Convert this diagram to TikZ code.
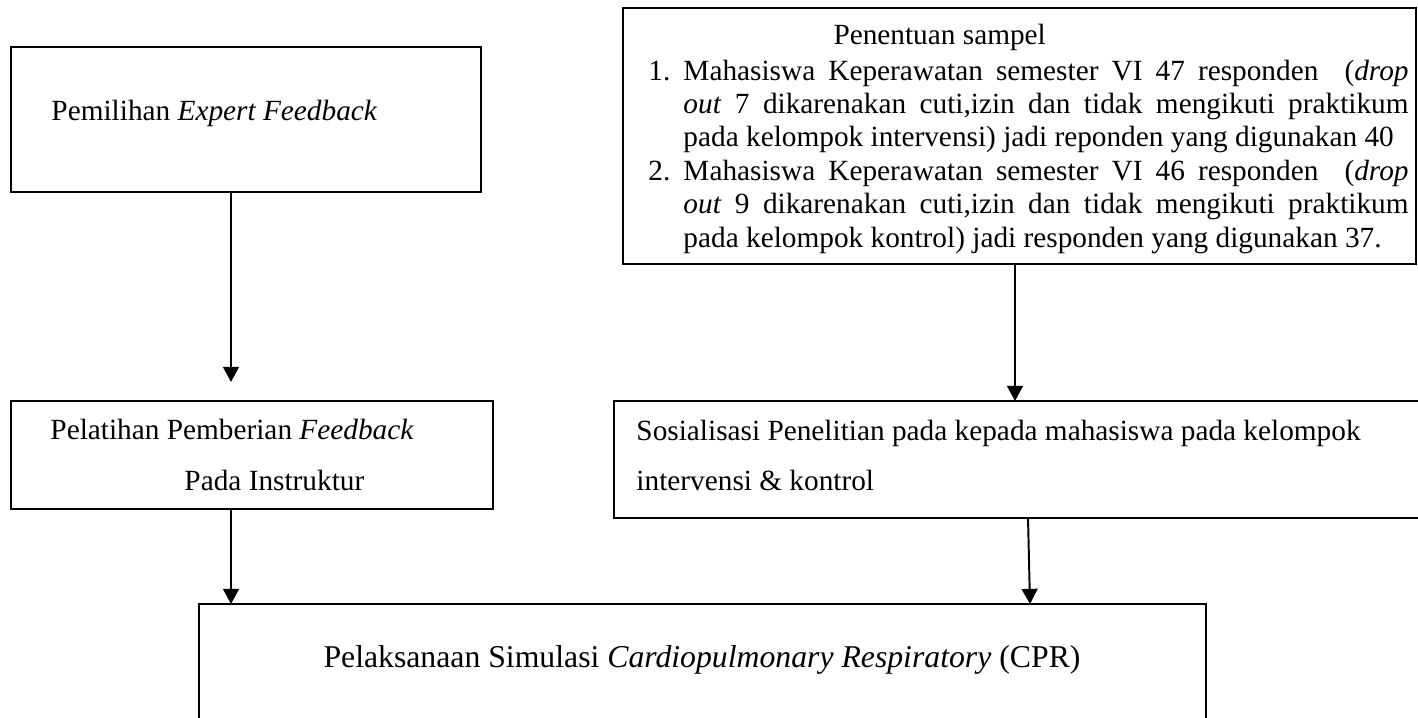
\documentclass[tikz,border=0pt]{standalone}
\usepackage{fontspec}
\setmainfont{Liberation Serif}
\usetikzlibrary{arrows.meta}
\newlength\pxu
\setlength\pxu{0.4096pt}

\begin{document}
\begin{tikzpicture}[x=0.4096pt,y=-0.4096pt,
    box/.style={draw,line width=1pt,anchor=north west,inner sep=0pt,outer sep=0pt},
    txt/.style={anchor=base west,inner sep=0pt,font=\fontsize{12}{14}\selectfont},
    arr/.style={line width=0.8pt,-{Triangle[width=6.5pt,length=6.2pt]}}]
    \useasboundingbox (0,0) rectangle (1418,717);
    % boxes
    \node[box,minimum width=470\pxu,minimum height=145\pxu] (pemilihan) at (11,47) {};
    \node[box,minimum width=793\pxu,minimum height=256\pxu] (sampel) at (623,8) {};
    \node[box,minimum width=482\pxu,minimum height=108\pxu] (pelatihan) at (11,401) {};
    \node[box,minimum width=830\pxu,minimum height=117\pxu] (sosialisasi) at (614,401) {};
    \node[box,minimum width=1007\pxu,minimum height=140\pxu] (simulasi) at (199,604) {};
    % texts
    \node[txt] (t1) at (51,120) {Pemilihan \textit{Expert Feedback}};
    \node[txt] (t2) at (833,45) {Penentuan sampel};
    \node[txt] (n1) at (648,80) {1.};
    \node[txt] (t3) at (683,80) {\makebox[297pt][s]{Mahasiswa Keperawatan semester VI 47 responden \ (\textit{drop}}};
    \node[txt] (t4) at (683,113.4) {\makebox[297pt][s]{\textit{out} 7 dikarenakan cuti,izin dan tidak mengikuti praktikum}};
    \node[txt] (t5) at (683,146.8) {pada kelompok intervensi) jadi reponden yang digunakan 40};
    \node[txt] (n2) at (648,180.2) {2.};
    \node[txt] (t6) at (683,180.2) {\makebox[297pt][s]{Mahasiswa Keperawatan semester VI 46 responden \ (\textit{drop}}};
    \node[txt] (t7) at (683,213.6) {\makebox[297pt][s]{\textit{out} 9 dikarenakan cuti,izin dan tidak mengikuti praktikum}};
    \node[txt] (t8) at (683,247) {pada kelompok kontrol) jadi responden yang digunakan 37.};
    \node[txt] (t9) at (50,439) {Pelatihan Pemberian \textit{Feedback}};
    \node[txt] (t10) at (184,490) {Pada Instruktur};
    \node[txt] (t11) at (636,440) {Sosialisasi Penelitian pada kepada mahasiswa pada kelompok};
    \node[txt] (t12) at (636,490) {intervensi \& kontrol};
    \node[txt,anchor=base,font=\fontsize{13}{15}\selectfont] (t13) at (702,667) {Pelaksanaan Simulasi \textit{Cardiopulmonary Respiratory} (CPR)};
    % arrows
    \draw[arr] ([xshift=220\pxu]pemilihan.south west) -- ([xshift=220\pxu,yshift=19\pxu]pelatihan.north west);
    \draw[arr] ([xshift=392\pxu]sampel.south west) -- ([xshift=401\pxu]sosialisasi.north west);
    \draw[arr] ([xshift=220\pxu]pelatihan.south west) -- ([xshift=32\pxu]simulasi.north west);
    \draw[arr] ([xshift=414\pxu]sosialisasi.south west) -- ([xshift=831\pxu]simulasi.north west);
\end{tikzpicture}
\end{document}
